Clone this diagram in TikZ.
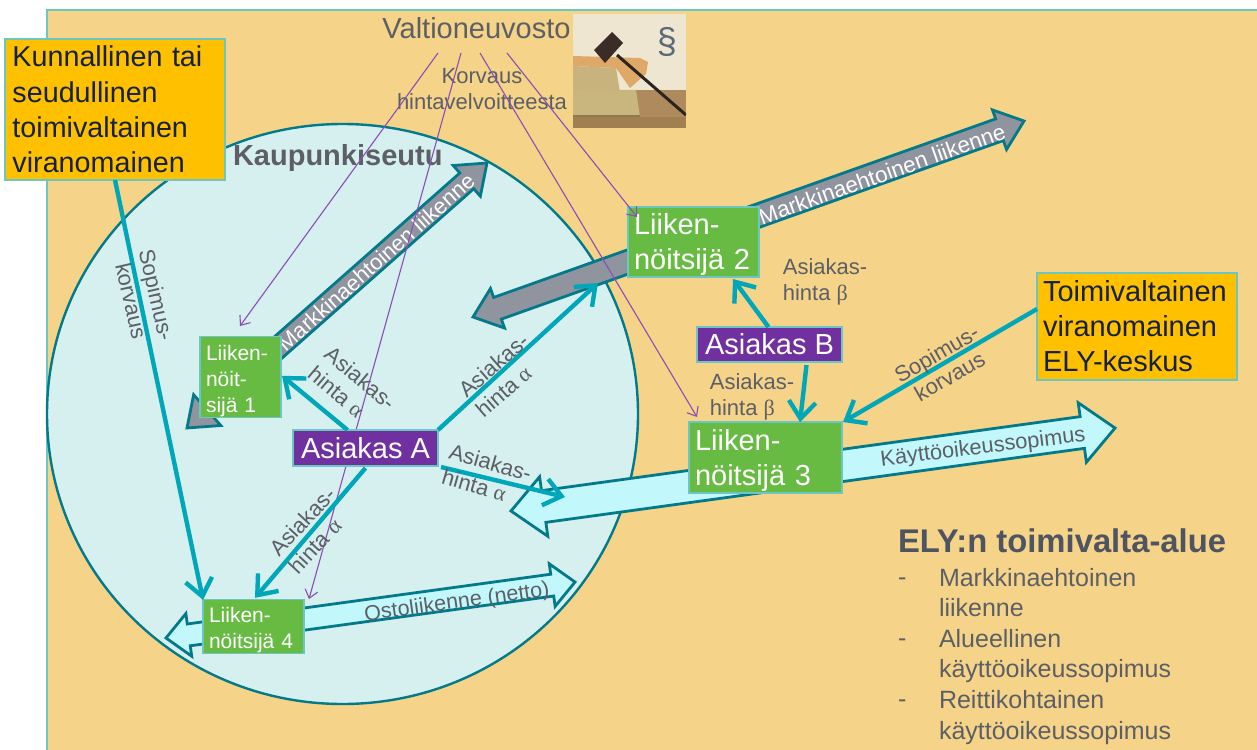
\documentclass[tikz,border=0pt]{standalone}
\usepackage{fontspec}
\setmainfont{Liberation Sans}
\newfontfamily\grk{Liberation Serif}
\usetikzlibrary{calc,arrows.meta}
\definecolor{bgor}{HTML}{F5D388}
\definecolor{edgeT}{HTML}{6CC6C2}
\definecolor{circF}{HTML}{D6EFEF}
\definecolor{circE}{HTML}{04798A}
\definecolor{grn}{HTML}{67BB43}
\definecolor{pur}{HTML}{7030A0}
\definecolor{lpur}{HTML}{8A4FB5}
\definecolor{org}{HTML}{FFC000}
\definecolor{cyanA}{HTML}{00A7B8}
\definecolor{ltA}{HTML}{C2F8FC}
\definecolor{gryA}{HTML}{8F949E}
\definecolor{txt}{HTML}{5C5F66}
\definecolor{navy}{HTML}{16213F}
\definecolor{imgA}{HTML}{EFE6D2}
\definecolor{imgB}{HTML}{AE8A5C}
\definecolor{imgC}{HTML}{A07F50}
\definecolor{imgD}{HTML}{C9B67E}
\definecolor{imgE}{HTML}{8F7A4A}
\definecolor{imgF}{HTML}{DDA868}
\definecolor{imgG}{HTML}{C8B27E}
\definecolor{imgH}{HTML}{2A2320}
\definecolor{imgI}{HTML}{3C2C28}
\definecolor{parC}{HTML}{5A6A78}
\definecolor{elyC}{HTML}{4E5461}
\newcommand{\fsz}[2]{\fontsize{#1}{#2}\selectfont}
\newcommand{\blockarrow}[6]{%
  \draw[#1] (#2)
   -- ($($(#2)!#6pt!(#3)$)!#5pt!90:(#3)$)
   -- ($($(#2)!#6pt!(#3)$)!#4pt!90:(#3)$)
   -- ($($(#3)!#6pt!(#2)$)!#4pt!-90:(#2)$)
   -- ($($(#3)!#6pt!(#2)$)!#5pt!-90:(#2)$)
   -- (#3)
   -- ($($(#3)!#6pt!(#2)$)!#5pt!90:(#2)$)
   -- ($($(#3)!#6pt!(#2)$)!#4pt!90:(#2)$)
   -- ($($(#2)!#6pt!(#3)$)!#4pt!-90:(#3)$)
   -- ($($(#2)!#6pt!(#3)$)!#5pt!-90:(#3)$)
   -- cycle;}
\tikzset{
  x=1pt,y=-1pt,
  every node/.style={inner sep=0pt,outer sep=0pt},
  boxbase/.style={draw=edgeT,line width=1.2pt,inner xsep=#1,align=left,anchor=center},
  greenbox/.style={boxbase=6pt,fill=grn,text=white},
  purbox/.style={boxbase=0pt,fill=pur,text=white,align=center},
  orgbox/.style={boxbase=6pt,fill=org,text=navy},
  lbl/.style={text=txt,font=\fsz{22}{26},align=left},
  lblc/.style={text=txt,font=\fsz{22}{26},align=center},
  wire/.style={draw=cyanA,line width=4.4pt,-{Straight Barb[length=17pt,width=27pt,line width=4.4pt]}},
  thin wire/.style={draw=lpur,line width=1.1pt,-{Straight Barb[length=8pt,width=13pt,line width=1.1pt]}},
  grayblock/.style={draw=circE,line width=2.8pt,fill=gryA,line join=miter},
  lightblock/.style={draw=circE,line width=2.8pt,fill=ltA,line join=miter},
  dashmark/.style={text=txt,font=\fsz{25}{30},anchor=west},
}
\begin{document}
\begin{tikzpicture}
\path[use as bounding box] (0,0) rectangle (1257,749);
\clip (0,0) rectangle (1257,749);
\fill[white] (0,0) rectangle (1257,749);
\draw[draw=edgeT,line width=2.4pt,fill=bgor] (47,10) rectangle (1275,770);
% city region
\draw[draw=circE,line width=2.4pt,fill=circF] (342.5,414) ellipse [x radius=295.5,y radius=290];
\node[text=txt,font=\bfseries\fsz{29}{32},anchor=west] (kaup) at (233,158) {Kaupunkiseutu};
% named ends of the block arrows
\coordinate (g1a) at (187,428); \coordinate (g1b) at (487,163);
\coordinate (g2a) at (473,317); \coordinate (g2b) at (1024,121);
\coordinate (l1a) at (511,511); \coordinate (l1b) at (1115,428);
\coordinate (l2a) at (166,638); \coordinate (l2b) at (575,582);
\blockarrow{grayblock}{g1a}{g1b}{10.5}{20.5}{27}
\blockarrow{grayblock}{g2a}{g2b}{11.5}{21}{26}
\blockarrow{lightblock}{l1a}{l1b}{16}{30}{33}
\blockarrow{lightblock}{l2a}{l2b}{11}{21.5}{23}
\node[text=white,font=\fsz{22}{26},rotate=41.5] (m1) at (376,262) {Markkinaehtoinen liikenne};
\node[text=white,font=\fsz{22.5}{26},rotate=19.6] (m2) at (882,174) {Markkinaehtoinen liikenne};
\node[text=txt,font=\fsz{21.8}{26},rotate=7] (ko) at (983,448) {Käyttöoikeussopimus};
\node[text=txt,font=\fsz{21.5}{26},rotate=7.8] (ost) at (457,603) {Ostoliikenne (netto)};
% gavel picture
\begin{scope}
\clip (573,14) rectangle (686,128);
\fill[imgA] (573,14) rectangle (686,92);
\fill[imgB] (630,90) rectangle (686,128);
\fill[imgC] (573,117) rectangle (686,128);
\fill[imgD] (573,90) -- (636,90) -- (640,117) -- (573,117) -- cycle;
\fill[imgE] (573,115.5) rectangle (640,117.5);
\fill[imgF] (573,56) -- (640,58) -- (648,62) -- (646,74) -- (630,88) -- (616,68) -- (573,66) -- cycle;
\fill[imgG] (573,66) -- (616,68) -- (620,92) -- (573,90) -- cycle;
\draw[imgH,line width=3pt] (617,55) -- (686,115);
\fill[imgI] (594,50) -- (612,32) -- (623,43) -- (605,63) -- cycle;
\end{scope}
\node[text=parC,font=\fsz{36}{40}] (par) at (667,42) {§};
% texts at top
\node[text=txt,font=\fsz{29}{34},minimum height=50pt] (valt) at (476.5,28) {Valtioneuvosto};
\node[lblc] (korv) at (482,89) {Korvaus\\hintavelvoitteesta};
% nodes
\node[orgbox,minimum width=220pt,minimum height=141pt,text width=205pt,font=\fsz{28.7}{35.3}] (kunn) at (115,109.5) {Kunnallinen tai\\seudullinen\\toimivaltainen\\viranomainen};
\node[orgbox,minimum width=200pt,minimum height=107pt,text width=188pt,font=\fsz{29}{35}] (ely) at (1137,326.5) {Toimivaltainen\\viranomainen\\ELY-keskus};
% thin links under the boxes
\coordinate (p1end) at (240,326);
\coordinate (p2end) at (309,599);
\coordinate (p3end) at (697,417);
\draw[thin wire] ([xshift=-38.5pt]valt.south) -- (p1end);
\draw[thin wire] ([xshift=-15.5pt]valt.south) -- (p2end);
\draw[thin wire] ([xshift=3.5pt]valt.south) -- (p3end);
\node[greenbox,minimum width=81pt,minimum height=80pt,text width=69pt,font=\fsz{21}{26}] (l1) at (240.5,377) {\rule{0pt}{24pt}Liiken-\\nöit-\\sijä 1};
\node[greenbox,minimum width=131pt,minimum height=70pt,text width=119pt,font=\fsz{29}{35}] (l2) at (693.5,242) {\rule{0pt}{27pt}Liiken-\\nöitsijä 2};
\node[greenbox,minimum width=153pt,minimum height=71pt,text width=141pt,font=\fsz{29}{35}] (l3) at (765.5,457.5) {\rule{0pt}{27pt}Liiken-\\nöitsijä 3};
\node[greenbox,minimum width=101pt,minimum height=53pt,text width=89pt,font=\fsz{21}{26}] (l4) at (253.5,626.5) {\rule{0pt}{23pt}Liiken-\\nöitsijä 4};
\node[purbox,minimum width=145pt,minimum height=36pt,font=\fsz{29}{34}] (aa) at (365.5,448) {Asiakas A};
\node[purbox,minimum width=145pt,minimum height=35pt,font=\fsz{29}{34}] (ab) at (769.5,344.5) {Asiakas B};
\draw[thin wire] ([xshift=30.5pt]valt.south) -- ([xshift=9pt,yshift=-10pt]l2.north west);
% connectors
\draw[wire] (kunn.south) -- (l4.north west);
\draw[wire] ([yshift=17.5pt]ely.west) -- ([xshift=1pt]l3.north east);
\draw[wire] ([xshift=-18pt]aa.north) -- ([xshift=1pt,yshift=-39pt]l1.north east);
\draw[wire] (aa.north east) -- (598,283);
\draw[wire] ([yshift=-2pt]aa.south) -- ([xshift=1.5pt,yshift=2pt]l4.north);
\draw[wire] ([xshift=3pt,yshift=-1pt]aa.south east) -- (565,497);
\draw[wire] ([xshift=-1pt]ab.north) -- ([xshift=39.5pt,yshift=-2pt]l2.south);
\draw[wire] ([xshift=37pt,yshift=-3pt]ab.south) -- ([xshift=34.5pt]l3.north);
% labels
\node[lbl,rotate=-40] (t1) at (352,388) {Asiakas-\\hinta {\grk α}};
\node[lbl,rotate=41] (t2) at (502,375) {Asiakas-\\hinta {\grk α}};
\node[lbl,rotate=-16] (t3) at (487,475) {Asiakas-\\hinta {\grk α}};
\node[lbl,rotate=47] (t4) at (312,530) {Asiakas-\\hinta {\grk α}};
\node[lbl] (t5) at (825,282) {Asiakas-\\hinta {\grk β}};
\node[lbl] (t6) at (752,397) {Asiakas-\\hinta {\grk β}};
\node[lblc,rotate=30] (t7) at (943,365) {Sopimus-\\korvaus};
\node[lblc,rotate=-77] (t8) at (144,298) {Sopimus-\\korvaus};
% ELY list
\node[text=elyC,font=\bfseries\fsz{32.8}{36},anchor=west] (el) at (898,541) {ELY:n toimivalta-alue};
\node[dashmark] (d1) at (898,582) {-};
\node[dashmark] (d2) at (898,643) {-};
\node[dashmark] (d3) at (898,704) {-};
\node[text=txt,font=\fsz{25}{30.6},align=left,anchor=north west,text width=300pt] (list) at (939,568) {Markkinaehtoinen\\liikenne\\Alueellinen\\käyttöoikeussopimus\\Reittikohtainen\\käyttöoikeussopimus};
\end{tikzpicture}
\end{document}
